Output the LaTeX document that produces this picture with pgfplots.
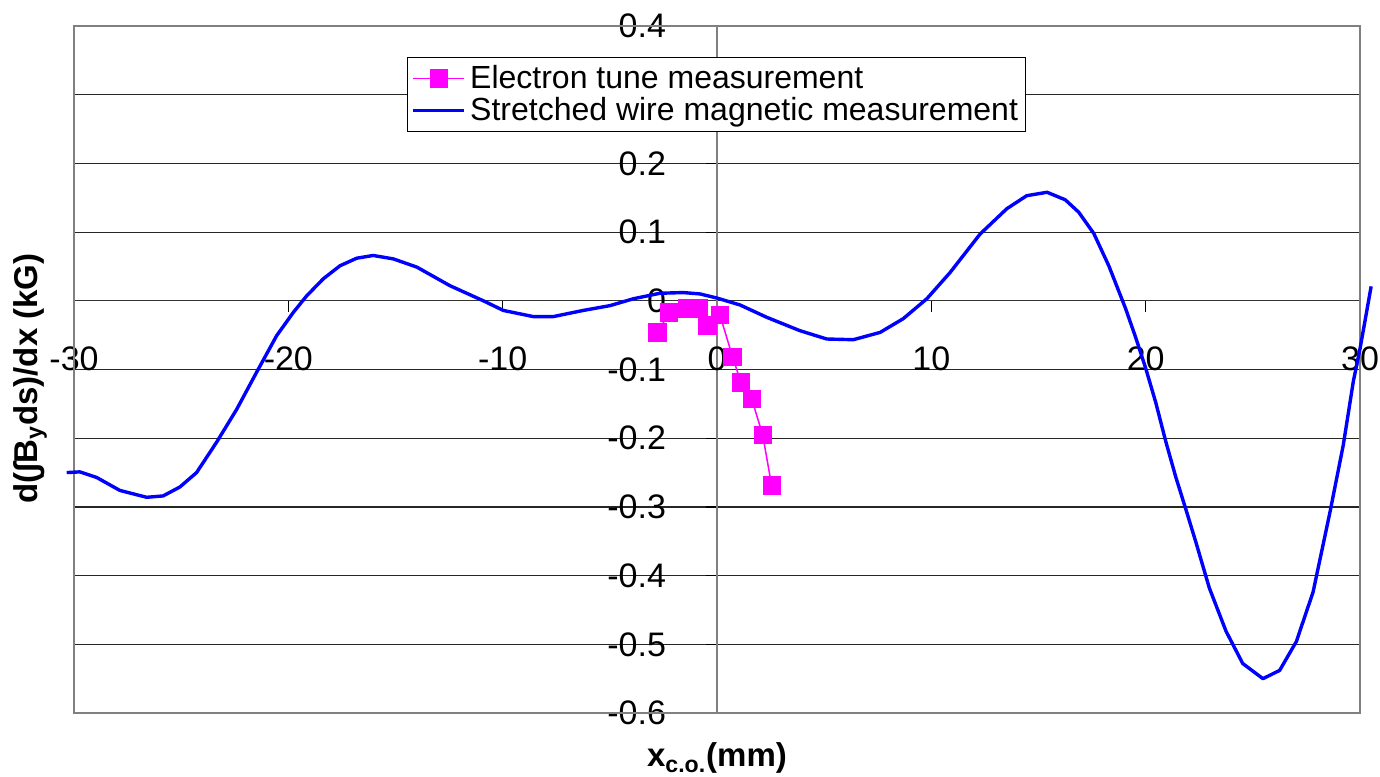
\documentclass[border=0pt]{standalone}
\usepackage{fontspec}
\setmainfont{Liberation Sans}
\usepackage{pgfplots}
\pgfplotsset{compat=1.18}
\definecolor{pmag}{RGB}{255,0,255}
\definecolor{pblue}{RGB}{0,0,255}
\begin{document}
\begin{tikzpicture}
\begin{axis}[
  scale only axis,
  width=643pt, height=343.5pt,
  xmin=-30, xmax=30, ymin=-0.6, ymax=0.4,
  axis lines=middle,
  axis line style={-},
  x axis line style={black!80, line width=0.6pt},
  y axis line style={gray, line width=0.8pt},
  hide obscured x ticks=false, hide obscured y ticks=false,
  clip=false,
  xtick={-30,-20,-10,0,10,20,30},
  xticklabels={-30,-20,-10,0,10,20,30},
  ytick={-0.6,-0.5,-0.4,-0.3,-0.2,-0.1,0,0.1,0.2,0.3,0.4},
  yticklabels={-0.6,-0.5,-0.4,-0.3,-0.2,-0.1,0,0.1,0.2,{},0.4},
  minor tick num=0,
  tick align=outside,
  major tick length=5.5pt,
  tick style={black, line width=0.6pt},
  tick label style={font=\fontsize{17}{20}\selectfont},
  xticklabel style={anchor=north, yshift=-14pt},
  yticklabel style={anchor=east, xshift=-16.5pt},
  ymajorgrids,
  major grid style={black!85, line width=0.6pt},
  xlabel={\textbf{x\textsubscript{c.o.}(mm)}},
  ylabel={\textbf{d(∫B\textsubscript{y}ds)/dx (kG)}},
  every axis x label/.style={at={(rel axis cs:0.5,-0.066)}, anchor=center, font=\fontsize{16.5}{20}\selectfont},
  every axis y label/.style={at={(rel axis cs:-0.0342,0.487)}, anchor=center, rotate=90, font=\fontsize{16.5}{20}\selectfont},
  legend style={at={(rel axis cs:0.259,0.955)}, anchor=north west, draw=black, line width=0.5pt, fill=white,
    font=\fontsize{16}{19}\selectfont, inner sep=2pt, row sep=-1pt},
  legend cell align=left,
  legend image code/.code={\draw[mark repeat=2,mark phase=2] plot coordinates {(0cm,0cm) (0.45cm,0cm) (0.9cm,0cm)};},
]
\coordinate (sw) at (rel axis cs:0,0);
\coordinate (ne) at (rel axis cs:1,1);
\draw[gray, line width=1pt] (rel axis cs:0,0) rectangle (rel axis cs:1,1);
\addplot[pmag, line width=0.75pt, mark=square*, mark size=4.2pt, mark options={fill=pmag, draw=pmag}] coordinates {
(-2.77,-0.046) (-2.23,-0.017) (-1.39,-0.011) (-0.87,-0.011) (-0.45,-0.036) (0.14,-0.021)
(0.73,-0.082) (1.12,-0.119) (1.62,-0.143) (2.13,-0.195) (2.55,-0.269)
};
\addlegendentry{Electron tune measurement}
\addplot[pblue, line width=1.7pt, line join=round, mark=none] coordinates {
(-30.34,-0.250) (-29.73,-0.249) (-28.95,-0.257) (-27.86,-0.276) (-26.61,-0.286)
(-25.84,-0.284) (-25.06,-0.271) (-24.28,-0.250) (-23.35,-0.206) (-22.41,-0.158)
(-21.48,-0.104) (-20.55,-0.051) (-19.77,-0.017) (-19.15,0.007) (-18.37,0.032)
(-17.59,0.051) (-16.81,0.062) (-16.04,0.066) (-15.1,0.061) (-14.0,0.049)
(-12.46,0.022) (-10.9,0.000) (-9.97,-0.014) (-8.57,-0.023) (-7.64,-0.023)
(-6.24,-0.014) (-4.99,-0.007) (-3.9,0.003) (-2.66,0.011) (-1.57,0.012)
(-0.79,0.010) (0,0.004) (1.07,-0.006) (2.32,-0.024) (3.87,-0.0435)
(5.12,-0.0556) (6.36,-0.0566) (7.61,-0.046) (8.69,-0.026) (9.79,0.003)
(10.87,0.041) (12.27,0.097) (13.52,0.134) (14.45,0.153) (15.4,0.158)
(16.25,0.147) (16.875,0.129) (17.58,0.098) (18.28,0.051) (19.06,-0.011)
(19.53,-0.053) (20.0,-0.098) (20.47,-0.148) (20.94,-0.205) (21.41,-0.257)
(21.88,-0.304) (22.34,-0.351) (22.97,-0.418) (23.75,-0.481) (24.53,-0.528)
(25.47,-0.550) (26.25,-0.538) (27.03,-0.496) (27.81,-0.424) (28.59,-0.309)
(29.22,-0.21) (29.69,-0.117) (30.0,-0.07) (30.52,0.021)
};
\addlegendentry{Stretched wire magnetic measurement}
\end{axis}
\pgfresetboundingbox
\path ([shift={(-37pt,-31.5pt)}]sw) rectangle ([shift={(10pt,13pt)}]ne);
\end{tikzpicture}
\end{document}
